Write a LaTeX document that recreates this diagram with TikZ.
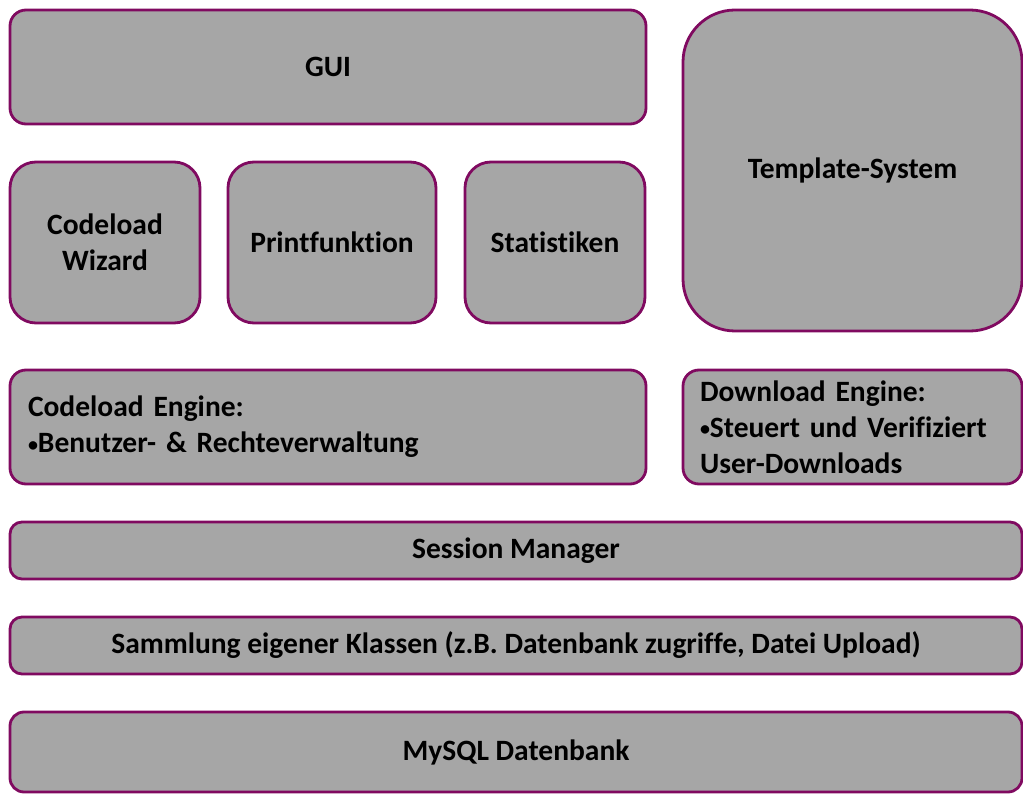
\documentclass[tikz,border=0pt]{standalone}
\usepackage{fontspec}
\setmainfont[Ligatures=NoCommon]{Carlito}
\definecolor{boxfill}{RGB}{166,166,166}
\definecolor{boxline}{RGB}{128,10,96}
\newcommand{\smallbullet}{{\fontsize{20}{20}\selectfont\raisebox{0.15ex}{•}}}
\begin{document}
\begin{tikzpicture}[x=1pt,y=-1pt,
  blk/.style={draw=boxline,line width=2.8pt,fill=boxfill,rounded corners=#1,
    font=\fontsize{29.5}{36}\selectfont\bfseries,align=center,inner sep=0pt},
  blk/.default=16pt]
\useasboundingbox (0,0) rectangle (1023,794);
\node[blk,minimum width=636pt,minimum height=114pt] (gui) at (328,67) {GUI};
\node[blk=26pt,minimum width=190pt,minimum height=161pt] (wiz) at (105,242.5) {Codeload\\Wizard};
\node[blk=26pt,minimum width=208pt,minimum height=161pt] (print) at (332,242.5) {Printfunktion};
\node[blk=26pt,minimum width=180pt,minimum height=161pt] (stat) at (555,242.5) {Statistiken};
\node[blk=52pt,minimum width=339pt,minimum height=321pt] (tmpl) at (852.5,170.5) {Template-System};
\node[blk,minimum width=636pt,minimum height=114pt,text width=600pt,align=left] (ce) at (328,427) {Codeload Engine:\\\smallbullet Benutzer- \& Rechteverwaltung};
\node[blk,minimum width=339pt,minimum height=114pt,text width=305pt,align=left] (de) at (852.5,427) {Download Engine:\\\smallbullet Steuert und Verifiziert\\User-Downloads};
\node[blk=12pt,minimum width=1012pt,minimum height=57pt] (sm) at (516,550.5) {Session Manager};
\node[blk=12pt,minimum width=1012pt,minimum height=57pt] (sk) at (516,645.5) {Sammlung eigener Klassen (z.B. Datenbank zugriffe, Datei Upload)};
\node[blk=14pt,minimum width=1012pt,minimum height=80pt] (db) at (516,752) {MySQL Datenbank};
\end{tikzpicture}
\end{document}
